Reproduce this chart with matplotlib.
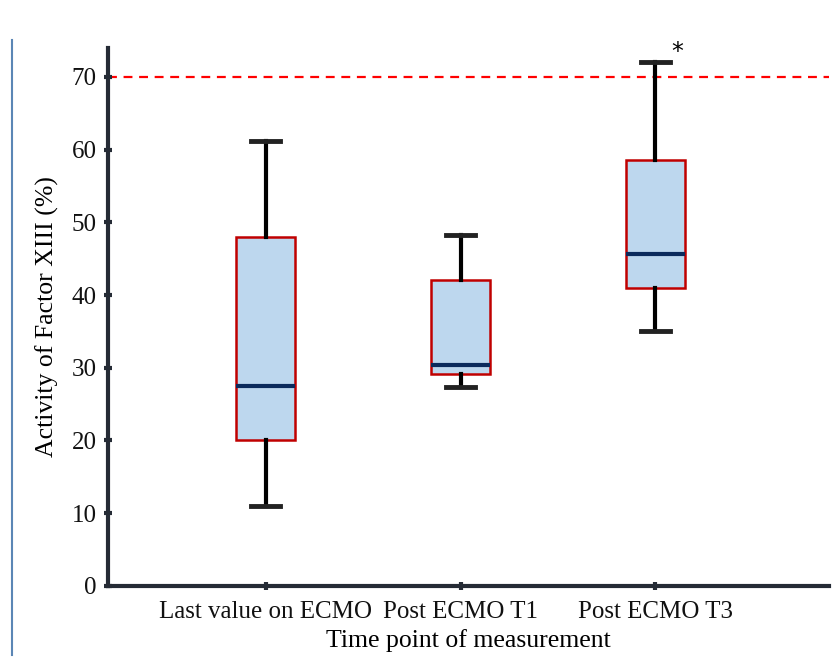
import matplotlib
matplotlib.use("Agg")
import matplotlib.pyplot as plt
from matplotlib.lines import Line2D

# Werte
groups = ["Last value on ECMO", "Post ECMO T1", "Post ECMO T3"]
whislo = [11.0, 27.3, 35.0]
q1 = [20.0, 29.2, 41.0]
med = [27.5, 30.4, 45.6]
q3 = [48.0, 42.0, 58.6]
whishi = [61.2, 48.2, 72.0]
ref_line = 70
yticks = [0, 10, 20, 30, 40, 50, 60, 70]

plt.rcParams['font.family'] = ['Liberation Serif', 'DejaVu Serif']

fig = plt.figure(figsize=(8.36, 6.59), dpi=100)
ax = fig.add_axes([0.129, 0.111, 0.8625, 0.8164])

stats = []
for i in range(len(groups)):
    stats.append(dict(label=groups[i], whislo=whislo[i], q1=q1[i], med=med[i],
                      q3=q3[i], whishi=whishi[i], fliers=[]))

ax.bxp(stats, positions=[1, 2, 3], widths=0.30, patch_artist=True,
       showfliers=False,
       boxprops=dict(facecolor='#bdd7ee', edgecolor='#c00000', linewidth=1.8),
       medianprops=dict(color='#0b2a5c', linewidth=3),
       whiskerprops=dict(color='black', linewidth=3),
       capprops=dict(color='#222222', linewidth=3.5),
       capwidths=0.15)

ax.axhline(ref_line, color='red', linestyle=(0, (4, 3)), linewidth=1.6, zorder=0)
ax.text(3.11, whishi[2] - 0.2, '*', fontsize=17, ha='center', va='bottom',
        family='DejaVu Sans')

ax.set_xlim(0.19, 3.89)
ax.set_ylim(0, 74)
ax.set_yticks(yticks)
ax.set_xticks([1, 2, 3])
ax.set_xticklabels(groups)

for s in ['top', 'right']:
    ax.spines[s].set_visible(False)
for s in ['left', 'bottom']:
    ax.spines[s].set_linewidth(3)
    ax.spines[s].set_color('#252b35')
ax.tick_params(axis='both', colors='#252b35', width=3, length=6, labelsize=18,
               labelcolor='#111111', direction='inout')
ax.tick_params(axis='x', pad=8)
ax.tick_params(axis='y', pad=5)

ax.set_ylabel('Activity of Factor XIII (%)', fontsize=18.5, labelpad=9)
ax.set_xlabel('Time point of measurement', fontsize=18.5, labelpad=4)

# duenne Linie links (Rand des Originals)
fig.add_artist(Line2D([12 / 836, 12 / 836], [1 - 40 / 659, 1 - 655 / 659],
                      color='#5b86b5', linewidth=1.5))

plt.savefig('out.png', dpi=100)
